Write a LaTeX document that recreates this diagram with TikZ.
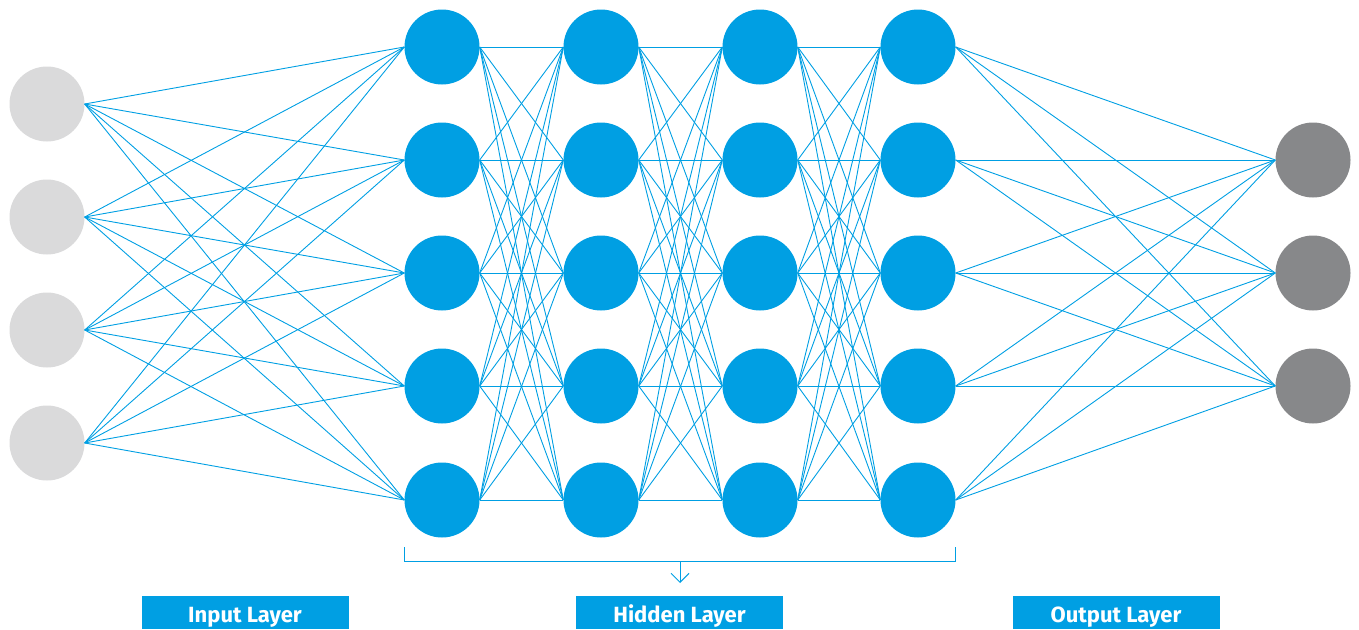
\documentclass[tikz,border=0pt]{standalone}
\usepackage{fontspec}
\setmainfont{Fira Sans}
\usetikzlibrary{arrows.meta}
\definecolor{netblue}{RGB}{0,159,227}
\definecolor{ingray}{RGB}{218,218,219}
\definecolor{outgray}{RGB}{135,136,138}
\tikzset{
  neuron/.style={circle, minimum size=75pt, inner sep=0pt, draw=none},
  innode/.style={neuron, fill=ingray},
  hidnode/.style={neuron, fill=netblue},
  outnode/.style={neuron, fill=outgray},
  wire/.style={draw=netblue, line width=0.9pt},
  layerlabel/.style={fill=netblue, text=white, font=\fontsize{22}{26}\selectfont\bfseries,
    minimum width=207pt, text height=26pt, text depth=7pt, inner sep=0pt, anchor=north},
}
\begin{document}
\begin{tikzpicture}[x=1pt, y=-1pt]
\useasboundingbox (0,0) rectangle (1359,629);
% input layer
\foreach \i/\y in {1/104,2/217,3/330,4/443}
  \node[innode] (in\i) at (47,\y) {};
% hidden layers
\foreach \c/\x in {1/442,2/601,3/760,4/918}
  \foreach \j/\y in {1/47,2/160,3/273,4/386,5/500}
    \node[hidnode] (h\c\j) at (\x,\y) {};
% output layer
\foreach \k/\y in {1/160,2/273,3/386}
  \node[outnode] (out\k) at (1313,\y) {};
% connections
\foreach \i in {1,...,4}
  \foreach \j in {1,...,5}
    \draw[wire] (in\i.east) -- (h1\j.west);
\foreach \c/\d in {1/2,2/3,3/4}
  \foreach \i in {1,...,5}
    \foreach \j in {1,...,5}
      \draw[wire] (h\c\i.east) -- (h\d\j.west);
\foreach \i in {1,...,5}
  \foreach \k in {1,...,3}
    \draw[wire] (h4\i.east) -- (out\k.west);
% bracket under the hidden layers
\coordinate (brL) at (h15.west |- 0,561);
\coordinate (brR) at (h45.east |- 0,561);
\coordinate (brM) at (680,561);
\coordinate (brTip) at (680,583);
\draw[wire, line width=1pt] ([yshift=14pt]brL) -- (brL) -- (brR) -- ([yshift=14pt]brR);
\draw[wire, line width=1pt, -{Straight Barb[length=9pt, width=18pt]}] (brM) -- (brTip);
% layer labels
\node[layerlabel] (lin) at (245,596) {Input Layer};
\node[layerlabel] (lhid) at (679.5,596) {Hidden Layer};
\node[layerlabel] (lout) at (1116,596) {Output Layer};
\end{tikzpicture}
\end{document}
